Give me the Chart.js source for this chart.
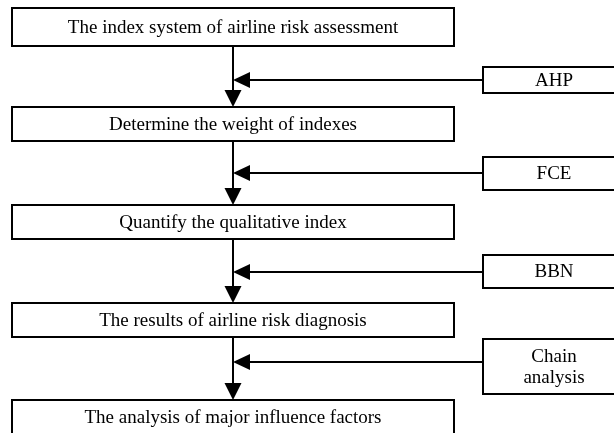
<!DOCTYPE html>
<html>
<head>
<meta charset="utf-8">
<script src="https://cdn.jsdelivr.net/npm/chart.js@4"></script>
<style>
  html, body { margin: 0; padding: 0; background: #ffffff; }
  canvas { display: block; }
</style>
</head>
<body>
<canvas id="flowChart" width="614" height="433"></canvas>
<script>
// Main steps of the assessment flow (top to bottom)
const steps = [
  'The index system of airline risk assessment',
  'Determine the weight of indexes',
  'Quantify the qualitative index',
  'The results of airline risk diagnosis',
  'The analysis of major influence factors'
];

// Method feeding into each connector (one per gap between steps)
const methods = [
  ['AHP'],
  ['FCE'],
  ['BBN'],
  ['Chain', 'analysis']
];

// Layout in the page's own units (x: 0..614, y: 0..433, y grows downward)
const stepLeft = 12;
const stepRight = 454;
const stepTop = [8, 107, 205, 303, 400];
const stepBottom = [46, 141, 239, 337, 440];
const methodLeft = 483;
const methodRight = 626;
const methodTop = [67, 157, 255, 339];
const methodBottom = [93, 190, 288, 394];
const arrowY = [80, 173, 272, 362];
const spineX = 233;

const fontFamily = "'Liberation Serif', 'Times New Roman', serif";

function drawArrowDown(ctx, x, tipY) {
  ctx.beginPath();
  ctx.moveTo(x, tipY);
  ctx.lineTo(x - 8.5, tipY - 17);
  ctx.lineTo(x + 8.5, tipY - 17);
  ctx.closePath();
  ctx.fill();
}

function drawArrowLeft(ctx, tipX, y) {
  ctx.beginPath();
  ctx.moveTo(tipX, y);
  ctx.lineTo(tipX + 17, y - 8);
  ctx.lineTo(tipX + 17, y + 8);
  ctx.closePath();
  ctx.fill();
}

// Draws the boxes, connectors and labels through the chart scales
const flowPlugin = {
  id: 'flowPlugin',
  afterDraw(chart) {
    const ctx = chart.ctx;
    const xs = chart.scales.x;
    const ys = chart.scales.y;
    const px = v => xs.getPixelForValue(v);
    const py = v => ys.getPixelForValue(v);

    ctx.save();
    ctx.strokeStyle = '#000000';
    ctx.fillStyle = '#000000';
    ctx.lineWidth = 2;
    ctx.font = '19px ' + fontFamily;
    ctx.textAlign = 'center';
    ctx.textBaseline = 'middle';

    // step boxes
    steps.forEach((label, i) => {
      const x0 = px(stepLeft), x1 = px(stepRight);
      const y0 = py(stepTop[i]), y1 = py(stepBottom[i]);
      ctx.strokeRect(x0, y0, x1 - x0, y1 - y0);
      const mid = i === steps.length - 1 ? py(stepTop[i] + 17) : (y0 + y1) / 2;
      ctx.fillText(label, (x0 + x1) / 2, mid + 1);
    });

    // connectors between steps
    for (let i = 0; i < steps.length - 1; i++) {
      const x = px(spineX);
      ctx.beginPath();
      ctx.moveTo(x, py(stepBottom[i]));
      ctx.lineTo(x, py(stepTop[i + 1]) - 10);
      ctx.stroke();
      drawArrowDown(ctx, x, py(stepTop[i + 1]));
    }

    // method boxes and their arrows
    methods.forEach((lines, i) => {
      const x0 = px(methodLeft), x1 = px(methodRight);
      const y0 = py(methodTop[i]), y1 = py(methodBottom[i]);
      ctx.strokeRect(x0, y0, x1 - x0, y1 - y0);
      const cx = px(554);
      const cy = (y0 + y1) / 2;
      const lh = 21;
      lines.forEach((t, k) => {
        ctx.fillText(t, cx, cy + 1 + (k - (lines.length - 1) / 2) * lh);
      });
      const ay = py(arrowY[i]);
      ctx.beginPath();
      ctx.moveTo(x0, ay);
      ctx.lineTo(px(spineX) + 10, ay);
      ctx.stroke();
      drawArrowLeft(ctx, px(spineX), ay);
    });

    ctx.restore();
  }
};

const ctx = document.getElementById('flowChart').getContext('2d');
new Chart(ctx, {
  type: 'scatter',
  data: {
    datasets: [{
      data: [],
      pointRadius: 0
    }]
  },
  options: {
    responsive: false,
    animation: false,
    layout: { padding: 0 },
    plugins: {
      legend: { display: false },
      tooltip: { enabled: false }
    },
    scales: {
      x: { type: 'linear', min: 0, max: 614, display: false },
      y: { type: 'linear', min: 0, max: 433, reverse: true, display: false }
    }
  },
  plugins: [flowPlugin]
});
</script>
</body>
</html>
